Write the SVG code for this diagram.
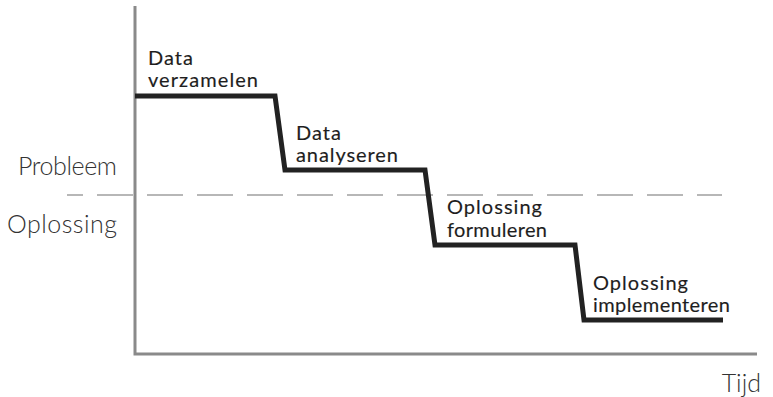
<svg xmlns="http://www.w3.org/2000/svg" width="773" height="397" viewBox="0 0 773 397">
  <style>
    .axis { stroke: #8a8a8a; stroke-width: 3; fill: none; }
    .divider { stroke: #a0a0a0; stroke-width: 1.5; fill: none; stroke-dasharray: 36 14; stroke-dashoffset: 20; }
    .steps { stroke: #222; stroke-width: 5; fill: none; stroke-linejoin: miter; }
    .step-label { font-family: Lato, "Liberation Sans", sans-serif; font-size: 20px; font-weight: 400; fill: #1e1e1e; stroke: #1e1e1e; stroke-width: 0.15; }
    .axis-label { font-family: Lato, "Liberation Sans", sans-serif; font-size: 25px; font-weight: 300; fill: #333; }
  </style>
  <rect width="773" height="397" fill="#fff"/>

  <g id="connectors">
    <line class="divider" x1="67" y1="195" x2="722" y2="195"/>
    <polyline class="axis" points="135,6 135,354 757,354"/>
    <polyline class="steps" points="135,96 275,96 285,170 425,170 435,245 575,245 584,320 723,320"/>
  </g>

  <g id="axis-labels">
    <text class="axis-label" x="117" y="175" text-anchor="end" textLength="99">Probleem</text>
    <text class="axis-label" x="117" y="233" text-anchor="end" textLength="110">Oplossing</text>
    <text class="axis-label" x="761" y="392" text-anchor="end">Tijd</text>
  </g>

  <g id="step-collect">
    <text class="step-label" x="148" y="65" textLength="45">Data</text>
    <text class="step-label" x="148" y="87" textLength="110">verzamelen</text>
  </g>
  <g id="step-analyse">
    <text class="step-label" x="296" y="140" textLength="45">Data</text>
    <text class="step-label" x="296" y="162" textLength="102">analyseren</text>
  </g>
  <g id="step-formulate">
    <text class="step-label" x="447" y="214" textLength="95">Oplossing</text>
    <text class="step-label" x="447" y="237" textLength="100">formuleren</text>
  </g>
  <g id="step-implement">
    <text class="step-label" x="593" y="290" textLength="95">Oplossing</text>
    <text class="step-label" x="593" y="312" textLength="137">implementeren</text>
  </g>
</svg>
